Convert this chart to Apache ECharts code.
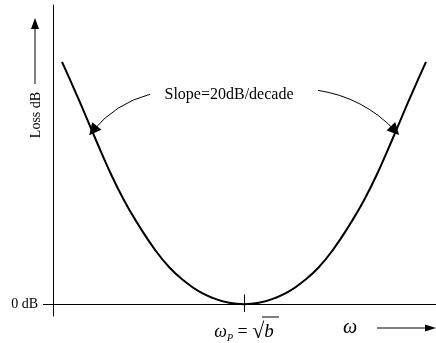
<!DOCTYPE html>
<html>
<head>
<meta charset="utf-8">
<title>Loss characteristic</title>
<script src="https://cdn.jsdelivr.net/npm/echarts@6/dist/echarts.min.js"></script>
<style>
  html, body { margin: 0; padding: 0; background: #fff; }
  #chart { width: 436px; height: 343px; }
</style>
</head>
<body>
<div id="chart"></div>
<script>
// Loss versus frequency: symmetric bowl with its minimum (0 dB) at the pole frequency
const omega = [9, 26, 41, 56, 71, 86, 101, 116, 131, 146, 161, 176, 191,
               206, 221, 236, 251, 266, 281, 296, 311, 326, 341, 356, 373];
const loss  = [247, 208, 172, 137, 106, 80, 57, 38, 24, 13, 6, 1.5, 0,
               1.5, 6, 13, 24, 38, 57, 80, 106, 137, 172, 208, 247];

// position of the pole frequency on the frequency axis
const omegaP = 191;

// annotation arrows pointing at the two skirts: start and tip
const slopeFrom = [[97, 214], [265, 218]];
const slopeTo   = [[40, 177], [342, 177]];

const serif = '"Liberation Serif", "DejaVu Serif", serif';

const chart = echarts.init(document.getElementById('chart'), null, { renderer: 'canvas' });

const arrowHead = (pts) => ({
  type: 'polygon',
  shape: { points: pts },
  style: { fill: '#000' },
  silent: true
});

chart.setOption({
  animation: false,
  backgroundColor: '#fff',
  grid: { left: 53, right: 0, top: 5, bottom: 21, containLabel: false },
  xAxis: {
    type: 'value',
    min: 0,
    max: 383,
    splitLine: { show: false },
    axisLine: { show: true, onZero: true, lineStyle: { color: '#000', width: 1 } },
    axisTick: { show: false },
    axisLabel: {
      show: true,
      customValues: [omegaP],
      margin: 5,
      formatter: () => '{w|ω}{s|P}{e| = }{r|√}{b|b}',
      rich: {
        w: { fontFamily: serif, fontStyle: 'italic', fontSize: 18, color: '#000', lineHeight: 22 },
        s: { fontFamily: serif, fontStyle: 'italic', fontSize: 10, color: '#000', lineHeight: 10, verticalAlign: 'bottom' },
        e: { fontFamily: serif, fontSize: 18, color: '#000', lineHeight: 22 },
        r: { fontFamily: serif, fontSize: 22, color: '#000', lineHeight: 22 },
        b: { fontFamily: serif, fontStyle: 'italic', fontSize: 19, color: '#000', lineHeight: 22 }
      }
    }
  },
  yAxis: {
    type: 'value',
    min: -12,
    max: 305,
    splitLine: { show: false },
    axisLine: { show: true, onZero: true, lineStyle: { color: '#000', width: 1 } },
    axisTick: { show: true, customValues: [0], length: 10, lineStyle: { color: '#000', width: 1 } },
    axisLabel: {
      show: true,
      customValues: [0],
      margin: 15,
      formatter: () => '0 dB',
      fontFamily: serif,
      fontSize: 14,
      color: '#000'
    }
  },
  series: [
    {
      type: 'line',
      data: omega.map((w, i) => [w, loss[i]]),
      smooth: true,
      showSymbol: false,
      silent: true,
      lineStyle: { color: '#000', width: 2 },
      markLine: {
        silent: true,
        symbol: ['none', 'none'],
        label: { show: false },
        lineStyle: { color: '#000', width: 1, type: 'solid' },
        data: [
          [{ coord: [omegaP, -8] }, { coord: [omegaP, 10] }]
        ]
      }
    },
    {
      type: 'lines',
      coordinateSystem: 'cartesian2d',
      silent: true,
      symbol: ['none', 'triangle'],
      symbolSize: 12,
      lineStyle: { color: '#000', width: 1, opacity: 1 },
      data: [
        { coords: [slopeFrom[0], slopeTo[0]], lineStyle: { curveness: -0.16 } },
        { coords: [slopeFrom[1], slopeTo[1]], lineStyle: { curveness: 0.17 } }
      ]
    }
  ],
  graphic: [
    {
      type: 'text',
      x: 229, y: 95,
      style: { text: 'Slope=20dB/decade', font: '16px ' + serif, fill: '#000', textAlign: 'center', textVerticalAlign: 'middle' },
      silent: true
    },
    {
      type: 'text',
      x: 36, y: 115,
      rotation: Math.PI / 2,
      style: { text: 'Loss dB', font: '14px ' + serif, fill: '#000', textAlign: 'center', textVerticalAlign: 'middle' },
      silent: true
    },
    { type: 'line', shape: { x1: 35, y1: 84, x2: 35, y2: 27 }, style: { stroke: '#000', lineWidth: 1 }, silent: true },
    arrowHead([[31, 29], [35, 18], [39, 29]]),
    {
      type: 'text',
      x: 350, y: 328,
      style: { text: 'ω', font: 'italic 20px ' + serif, fill: '#000', textAlign: 'center', textVerticalAlign: 'middle' },
      silent: true
    },
    { type: 'line', shape: { x1: 377, y1: 328, x2: 427, y2: 328 }, style: { stroke: '#000', lineWidth: 1 }, silent: true },
    arrowHead([[425, 324.5], [436, 328], [425, 331.5]]),
    { type: 'line', shape: { x1: 262, y1: 317, x2: 279, y2: 317 }, style: { stroke: '#000', lineWidth: 1 }, silent: true }
  ]
});
</script>
</body>
</html>
